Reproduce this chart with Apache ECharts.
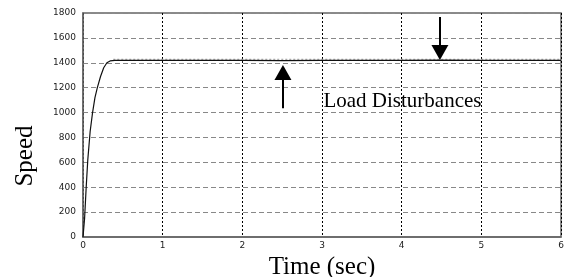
<!DOCTYPE html>
<html><head><meta charset="utf-8">
<script src="https://cdn.jsdelivr.net/npm/echarts@6/dist/echarts.min.js"></script>
<style>html,body{margin:0;padding:0;background:#fff}#c{width:566px;height:277px}</style>
</head><body><div id="c"></div>
<script>
// Time (sec) and speed values
const speedTime  = [0, 0.01, 0.02, 0.04, 0.06, 0.09, 0.12, 0.15, 0.18, 0.22, 0.26, 0.30, 0.34, 0.40, 1, 2, 2.5, 3, 4, 4.5, 5, 6];
const speedValue = [0, 0, 150, 400, 620, 850, 1000, 1120, 1200, 1290, 1360, 1400, 1415, 1420, 1420, 1420, 1418, 1420, 1420, 1422, 1420, 1420];
const refTime  = [0.38, 1, 2, 3, 4, 5, 6];
const refValue = [1428, 1428, 1428, 1428, 1428, 1428, 1428];
const xTicks = [0, 1, 2, 3, 4, 5, 6];
const yTicks = [0, 200, 400, 600, 800, 1000, 1200, 1400, 1600, 1800];
// annotation arrows: [time, fromSpeed, toSpeed]
const upArrow   = [2.51, 1035, 1322];
const downArrow = [4.48, 1768, 1483];
const noteText = 'Load Disturbances';
const notePos = [4.01, 1092];

const chart = echarts.init(document.getElementById('c'));
const axisFont = {fontFamily: 'DejaVu Sans', fontSize: 9, color: '#222'};
chart.setOption({
  animation: false,
  grid: {left: 83, right: 5, top: 13, bottom: 40, show: true, borderColor: '#666', borderWidth: 1.5,
         containLabel: false, outerBoundsMode: 'none'},
  xAxis: {
    type: 'value', min: xTicks[0], max: xTicks[xTicks.length-1], interval: 1,
    axisLine: {show: true, lineStyle: {color: '#666', width: 1.5}},
    axisTick: {show: false},
    axisLabel: Object.assign({margin: 4}, axisFont),
    splitLine: {show: true, lineStyle: {color: '#000', type: [2, 2], width: 1}},
    name: 'Time (sec)', nameLocation: 'middle', nameGap: 18,
    nameTextStyle: {fontFamily: 'Liberation Serif', fontSize: 25, color: '#000'}
  },
  yAxis: {
    type: 'value', min: yTicks[0], max: yTicks[yTicks.length-1], interval: 200,
    axisLine: {show: true, lineStyle: {color: '#666', width: 1.5}},
    axisTick: {show: false},
    axisLabel: Object.assign({margin: 7, formatter: v => String(v)}, axisFont),
    splitLine: {show: true, lineStyle: {color: '#888', type: [5, 3], width: 1}},
    name: 'Speed', nameLocation: 'middle', nameGap: 45,
    nameTextStyle: {fontFamily: 'Liberation Serif', fontSize: 25, color: '#000', padding: [0, 62, 0, 0]}
  },
  series: [
    {
      type: 'line', symbol: 'none', z: 3,
      data: refTime.map((t, i) => [t, refValue[i]]),
      lineStyle: {color: '#999', width: 1, type: [2, 2]}
    },
    {
      type: 'line', symbol: 'none', z: 4,
      data: speedTime.map((t, i) => [t, speedValue[i]]),
      lineStyle: {color: '#111', width: 1.2},
      markLine: {
        silent: true, symbol: ['none', 'triangle'], symbolSize: [17, 15],
        lineStyle: {color: '#000', width: 2, type: 'solid'},
        label: {show: false},
        data: [
          [{coord: [upArrow[0], upArrow[1]]}, {coord: [upArrow[0], upArrow[2]]}],
          [{coord: [downArrow[0], downArrow[1]]}, {coord: [downArrow[0], downArrow[2]]}]
        ]
      },
      markPoint: {
        silent: true, symbol: 'circle', symbolSize: 0,
        label: {show: true, formatter: noteText, fontFamily: 'Liberation Serif', fontSize: 21, color: '#000', position: 'inside'},
        data: [{coord: notePos}]
      }
    }
  ]
});
</script></body></html>
